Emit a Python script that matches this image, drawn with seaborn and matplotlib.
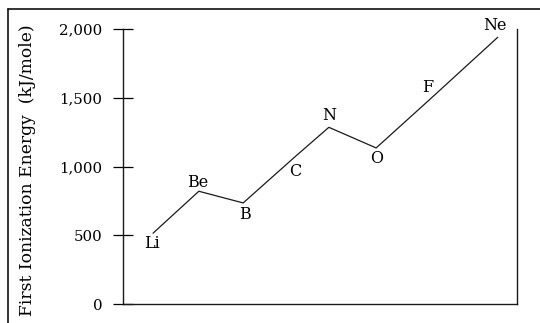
import numpy as np
import matplotlib
matplotlib.use("Agg")
import matplotlib.pyplot as plt
from matplotlib.lines import Line2D
import pandas as pd
import seaborn as sns

# values (x axis has no scale, positions are along it)
elements = ["Li", "Be", "B", "C", "N", "O", "F", "Ne"]
position = [0.61, 1.54, 2.44, 3.49, 4.18, 5.14, 6.19, 7.61]
energy = [515, 820, 735, 1070, 1285, 1135, 1475, 1940]
yticks = [0, 500, 1000, 1500, 2000]

# label offsets (points) for the element names
label_dx = [-0.7, -0.7, 1.4, 0.0, 0.0, 0.7, 0.0, -2.2]
label_dy = [-7.2, 6.5, -8.6, -10.8, 8.6, -7.9, 10.0, 8.6]

df = pd.DataFrame({"element": elements, "pos": position, "energy": energy})

sns.set_theme(style="white")
plt.rcParams["font.family"] = ["DejaVu Serif"]

fig = plt.figure(figsize=(5.4, 3.23), dpi=100)
ax = fig.add_axes([123 / 540, 19 / 323, 394 / 540, 275 / 323])

sns.lineplot(data=df, x="pos", y="energy", sort=False, color="#1a1a1a",
             lw=0.9, ax=ax)

for el, x, y, dx, dy in zip(df.element, df.pos, df.energy, label_dx, label_dy):
    ax.annotate(el, (x, y), xytext=(dx, dy), textcoords="offset points",
                ha="center", va="center", fontsize=11.5, color="black")

ax.set_xlim(0, 8)
ax.set_ylim(0, 2000)
ax.set_yticks(yticks)
ax.set_yticklabels([f"{v:,}" for v in yticks])
ax.set_xticks([])
ax.tick_params(axis="y", direction="inout", length=14.4, width=0.9,
               pad=7.6, labelsize=10.8, colors="black", left=True)
ax.set_xlabel("")
ax.set_ylabel("First Ionization Energy  (kJ/mole)", fontsize=12.3,
              color="black")
ax.yaxis.set_label_coords(-0.222, 0.487)

for side in ["left", "bottom", "right"]:
    ax.spines[side].set_visible(True)
    ax.spines[side].set_color("#1a1a1a")
    ax.spines[side].set_linewidth(1.0)
ax.spines["top"].set_visible(False)

# outer frame (top and left edges of the original box)
fig.add_artist(Line2D([8 / 540, 1], [1 - 9 / 323, 1 - 9 / 323],
                      transform=fig.transFigure, color="#111111", lw=1.2))
fig.add_artist(Line2D([8 / 540, 8 / 540], [0, 1 - 9 / 323],
                      transform=fig.transFigure, color="#111111", lw=1.2))

fig.savefig("out.png", dpi=100, facecolor="white")
